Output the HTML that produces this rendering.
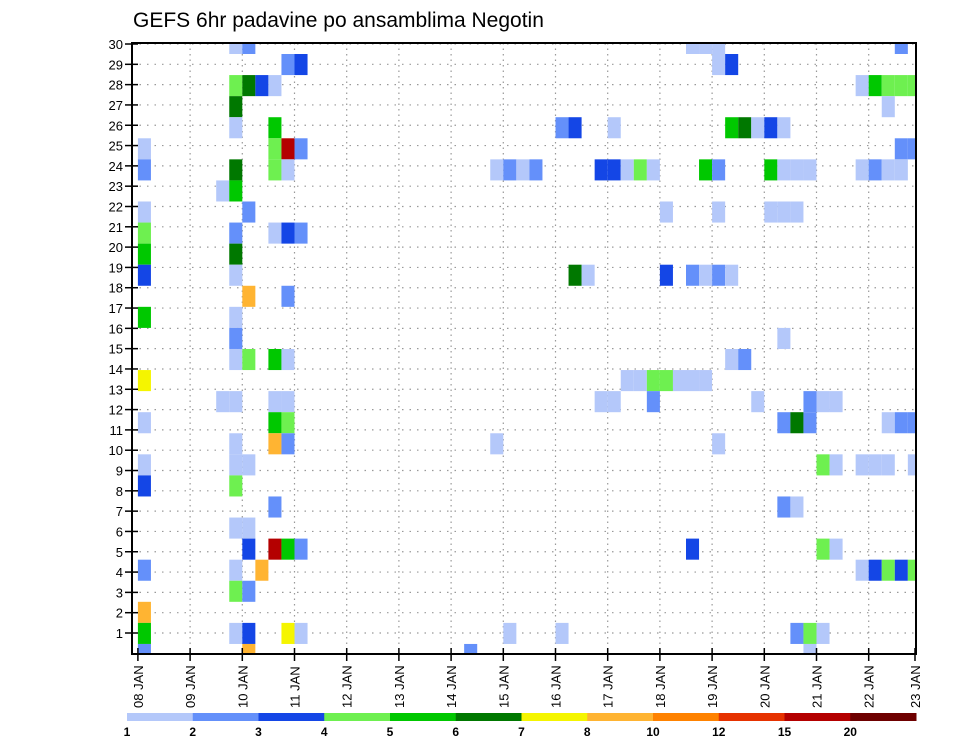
<!DOCTYPE html>
<html><head><meta charset="utf-8"><style>
html,body{margin:0;padding:0;background:#fff;}
svg{display:block;font-family:"Liberation Sans","DejaVu Sans",sans-serif;}
</style></head><body>
<svg id="chart" width="960" height="742" viewBox="0 0 960 742" xmlns="http://www.w3.org/2000/svg">
<text x="133" y="27" font-size="21" fill="#000">GEFS 6hr padavine po ansamblima Negotin</text>
<g id="grid"></g>
<g id="cells"></g>
<rect x="132" y="43" width="784" height="611" fill="none" stroke="#000" stroke-width="2"/>
<g id="axes"></g>
<g id="legend"></g>
</svg>
<script>
// ---- data ----
const dayLabels = ["08 JAN","09 JAN","10 JAN","11 JAN","12 JAN","13 JAN","14 JAN","15 JAN","16 JAN","17 JAN","18 JAN","19 JAN","20 JAN","21 JAN","22 JAN","23 JAN"];
const memberTicks = [1,2,3,4,5,6,7,8,9,10,11,12,13,14,15,16,17,18,19,20,21,22,23,24,25,26,27,28,29,30];
const levelLabels = ["1","2","3","4","5","6","7","8","10","12","15","20"];
const levelColors = ["#b4c8fa","#6490fa","#1446e6","#6ef050","#00c800","#007800","#f5f500","#ffb432","#ff8200","#e63200","#b40000","#6e0000"];
// Each row (top to bottom): "column(6h step)+level letter" where a=1-2 ... l=20+
const rows = [
"7a,8b,42a,43a,44a,58b",
"11b,12c,44a,45c",
"7d,8f,9c,10a,55a,56e,57d,58d,59d",
"7f,57a",
"7a,10e,32b,33c,36a,45e,46f,47a,48c,49a",
"0a,10d,11k,12b,58b,59b",
"0b,7f,10d,11a,27a,28b,29a,30b,35c,36c,37a,38d,39a,43e,44b,48e,49a,50a,51a,55a,56b,57a,58a",
"6a,7e",
"0a,8b,40a,44a,48a,49a,50a",
"0d,7b,10a,11c,12b",
"0e,7f",
"0c,7a,33f,34a,40c,42b,43a,44b,45a",
"8h,11b",
"0e,7a",
"7b,49a",
"7a,8d,10e,11a,45a,46b",
"0g,37a,38a,39d,40d,41a,42a,43a",
"6a,7a,10a,11a,35a,36a,39b,47a,51b,52a,53a",
"0a,10e,11d,49b,50f,51b,57a,58b,59b",
"7a,10h,11b,27a,44a",
"0a,7a,8a,52d,53a,55a,56a,57a,59a",
"0c,7d",
"10b,49b,50a",
"7a,8a",
"8c,10k,11e,12b,42c,52d,53a",
"0b,7a,9h,55a,56c,57d,58c,59d",
"7d,8b",
"0h",
"0e,7a,8c,11g,12a,28a,32a,50b,51d,52a",
"0b,8h,25b,51a"
];
// ---- scales ----
const NS="http://www.w3.org/2000/svg";
const X0=137.9, DAY=52.2, COL=DAY/4, XR=916, YT=43, YB=654;
function xCol(k){return X0+k*COL;}
function xDay(d){return Math.min(X0+d*DAY, XR-1);}
function rowTop(s){return s===0?YT:54+(s-1)*21.07;}
function rowBot(s){return s===rows.length-1?YB:54+s*21.07;}
function yTick(m){return 633-(m-1)*20.31;}
function mk(tag,attrs,parent){const e=document.createElementNS(NS,tag);for(const k in attrs)e.setAttribute(k,attrs[k]);parent.appendChild(e);return e;}

const grid=document.getElementById('grid');
memberTicks.forEach(m=>{
  const l=mk('line',{x1:132,x2:XR,y1:yTick(m),y2:yTick(m),stroke:"#999","stroke-width":1.2,"stroke-dasharray":"1.5 6"},grid);
  
  
});
dayLabels.forEach((d,i)=>{
  if(i===0||i===dayLabels.length-1)return;
  const l=mk('line',{x1:xDay(i),x2:xDay(i),y1:YT,y2:YB,stroke:"#999","stroke-width":1.2,"stroke-dasharray":"1.5 4"},grid);
  
  
});

const cells=document.getElementById('cells');
rows.forEach((r,s)=>{
  r.split(',').forEach(tok=>{
    const k=parseInt(tok,10); const lv=tok.charCodeAt(tok.length-1)-97;
    const x=xCol(k); const w=Math.min(COL, XR-x);
    const c=mk('rect',{x:x.toFixed(2),y:rowTop(s).toFixed(2),width:w.toFixed(2),height:(rowBot(s)-rowTop(s)).toFixed(2),fill:levelColors[lv]},cells);
    
    
  });
});

const axes=document.getElementById('axes');
memberTicks.forEach(m=>{
  const y=yTick(m);
  const t=mk('line',{x1:125,x2:138,y1:y,y2:y,stroke:"#000","stroke-width":1.5},axes);
  
  
  const tx=mk('text',{x:123,y:y+5,"font-size":13,"text-anchor":"end",fill:"#000"},axes);
  tx.textContent=m;
  
  
});
dayLabels.forEach((d,i)=>{
  const x=xDay(i);
  const t=mk('line',{x1:x,x2:x,y1:YB-6,y2:YB+7,stroke:"#000","stroke-width":1.5},axes);
  
  
  const tx=mk('text',{x:0,y:0,"font-size":13,fill:"#000",transform:`translate(${x+5},708) rotate(-90)`},axes);
  tx.textContent=d;
  
  
});

const legend=document.getElementById('legend');
const LX=127, LW=(916-127)/levelColors.length;
levelColors.forEach((c,i)=>{
  const r=mk('rect',{x:LX+i*LW,y:713,width:LW+0.5,height:8,fill:c},legend);
  
  
});
levelLabels.forEach((l,i)=>{
  const t=mk('text',{x:LX+i*LW,y:736,"font-size":12,"font-weight":"bold","text-anchor":"middle",fill:"#000"},legend);
  t.textContent=l;
  
  
});
</script>
</body></html>
